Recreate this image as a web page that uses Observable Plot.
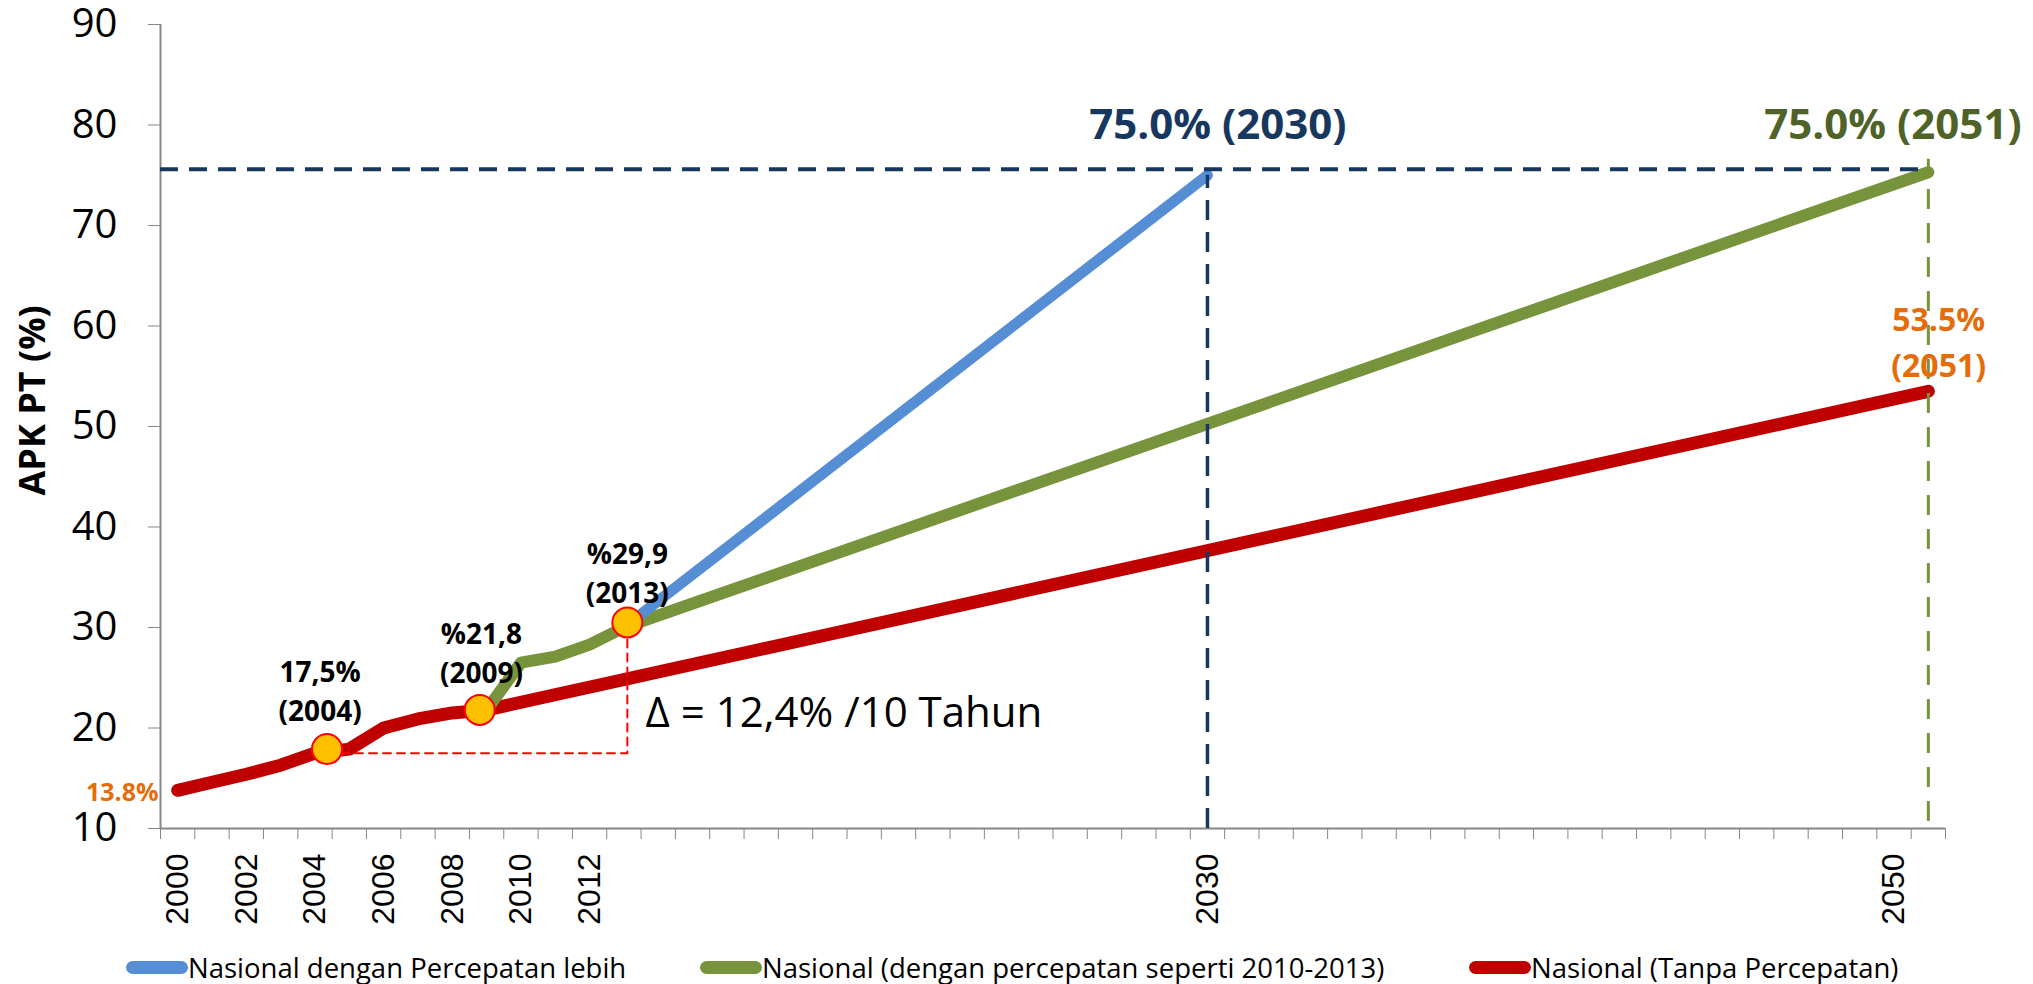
<!DOCTYPE html>
<html>
<head>
<meta charset="utf-8">
<script src="https://cdn.jsdelivr.net/npm/d3@7"></script>
<script src="https://cdn.jsdelivr.net/npm/@observablehq/plot@0.6"></script>
<style>
  body { margin: 0; background: #fff; font-family: "Open Sans", sans-serif; }
  #chart svg { display: block; }
  #legend { position: relative; width: 2033px; height: 54px; }
  .item { position: absolute; top: 20px; height: 34px; display: flex; align-items: center; font-size: 27.5px; color: #000; white-space: nowrap; }
  .sw { width: 62px; height: 13px; border-radius: 6.5px; }
</style>
</head>
<body>
<div id="chart"></div>
<div id="legend"></div>
<script>
// ---- data ----
const seriesNames = [
  "Nasional dengan Percepatan lebih",
  "Nasional (dengan percepatan seperti 2010-2013)",
  "Nasional (Tanpa Percepatan)"
];
const seriesColors = ["#558ED5", "#77933C", "#C00000"];

const blueYears = [2013, 2030];
const blueValues = [30.0, 75.0];

const greenYears = [2009, 2010, 2011, 2012, 2013, 2051];
const greenValues = [21.8, 26.5, 27.1, 28.3, 30.0, 75.3];

const redYears = [2000, 2001, 2002, 2003, 2004, 2005, 2006, 2007, 2008, 2009, 2051];
const redValues = [13.8, 14.6, 15.4, 16.3, 17.5, 17.9, 20.0, 20.9, 21.5, 21.8, 53.5];

const yTicks = [10, 20, 30, 40, 50, 60, 70, 80, 90];
const xTickLabels = [2000, 2002, 2004, 2006, 2008, 2010, 2012, 2030, 2050];

const markerYears = [2004.35, 2008.8, 2013.1];
const markerValues = [17.9, 21.8, 30.5];
const markerLabels = ["17,5%\n(2004)", "%21,8\n(2009)", "%29,9\n(2013)"];
const markerLabelYears = [2004.15, 2008.85, 2013.1];
const markerLabelValues = [23.9, 27.7, 35.6];

const targetValue = 75.6;      // horizontal dashed target line
const targetYearFast = 2030;
const targetYearSlow = 2051;

const deltaText = "Δ = 12,4% /10 Tahun";
const deltaBase = 17.5;

// ---- chart ----
const yearBoundaries = d3.range(1999.5, 2052, 1);
const gray = "#868686";
const navy = "#17375E";
const olive = "#4F6228";
const orange = "#E46C0A";

const chart = Plot.plot({
  width: 2033,
  height: 930,
  marginLeft: 160,
  marginRight: 88,
  marginTop: 24,
  marginBottom: 102,
  style: { fontFamily: "'Open Sans', sans-serif", background: "white", color: "black", overflow: "visible" },
  x: { domain: [1999.5, 2051.5] },
  y: { domain: [10, 90] },
  marks: [
    // axes
    Plot.axisY({ ticks: yTicks, tickSize: 12, tickPadding: 31, fontSize: 40, stroke: gray, label: null, tickFormat: d => String(d) }),
    Plot.axisX({ ticks: yearBoundaries, tickSize: 11, tickFormat: () => "", stroke: gray, label: null }),
    Plot.axisX({ ticks: xTickLabels, tickSize: 0, tickPadding: 25, tickRotate: -90, fontSize: 32, fontFamily: "'Liberation Sans', Arial, sans-serif", label: null, tickFormat: d => String(d) }),
    Plot.ruleX([1999.5], { stroke: gray, strokeWidth: 2 }),
    Plot.ruleY([10], { stroke: gray, strokeWidth: 2 }),
    Plot.text(["APK PT (%)"], { x: 1999.5, y: 52.6, dx: -127, rotate: -90, fontSize: 36, fontWeight: "bold", fill: "black" }),

    // series
    Plot.line(redYears, { x: redYears, y: redValues, stroke: seriesColors[2], strokeWidth: 13, strokeLinecap: "round", strokeLinejoin: "round" }),
    Plot.line(greenYears, { x: greenYears, y: greenValues, stroke: seriesColors[1], strokeWidth: 12, strokeLinecap: "round", strokeLinejoin: "round" }),
    Plot.line(blueYears, { x: blueYears, y: blueValues, stroke: seriesColors[0], strokeWidth: 11, strokeLinecap: "round", strokeLinejoin: "round" }),

    // reference dashed lines
    Plot.ruleY([targetValue], { x1: 1999.5, x2: targetYearSlow, stroke: navy, strokeWidth: 4, strokeDasharray: "18,11" }),
    Plot.ruleX([targetYearFast], { y1: 10, y2: blueValues[1], stroke: navy, strokeWidth: 3.5, strokeDasharray: "20,12" }),
    Plot.ruleX([targetYearSlow], { y1: 10.7, y2: 76.6, stroke: seriesColors[1], strokeWidth: 3, strokeDasharray: "20,14" }),
    Plot.line([0, 1, 2], {
      x: [markerYears[0], markerYears[2], markerYears[2]],
      y: [deltaBase, deltaBase, markerValues[2]],
      stroke: "#FF0000", strokeWidth: 2, strokeDasharray: "8,6"
    }),

    // markers
    Plot.dot(markerYears, { x: markerYears, y: markerValues, r: 15, fill: "#FFC000", stroke: "#FF0000", strokeWidth: 2 }),

    // annotations
    Plot.text(markerLabels, { x: markerLabelYears, y: markerLabelValues, text: d => d, fontSize: 28, fontWeight: "bold", fill: "black", lineHeight: 1.4 }),
    Plot.text([deltaText], { x: 2013.63, y: 21.4, textAnchor: "start", fontSize: 42, fill: "black" }),
    Plot.text(["13.8%"], { x: 1999.5, y: 13.5, dx: -2, textAnchor: "end", fontSize: 25, fontWeight: "bold", fill: orange }),
    Plot.text(["75.0% (2030)"], { x: 2030.3, y: 79.9, fontSize: 42, fontWeight: "bold", fill: navy }),
    Plot.text(["75.0% (2051)"], { x: 2049.97, y: 79.9, fontSize: 42, fontWeight: "bold", fill: olive }),
    Plot.text(["53.5%\n(2051)"], { x: 2051.3, y: 58.7, fontSize: 32, fontWeight: "bold", fill: orange, lineHeight: 1.45 })
  ]
});
document.getElementById("chart").appendChild(chart);

// ---- legend ----
const legendLefts = [126, 700, 1469];
const legend = document.getElementById("legend");
seriesNames.forEach((name, i) => {
  const item = document.createElement("div");
  item.className = "item";
  item.style.left = legendLefts[i] + "px";
  const sw = document.createElement("span");
  sw.className = "sw";
  sw.style.background = seriesColors[i];
  const label = document.createElement("span");
  label.textContent = name;
  item.appendChild(sw);
  item.appendChild(label);
  legend.appendChild(item);
});
</script>
</body>
</html>
